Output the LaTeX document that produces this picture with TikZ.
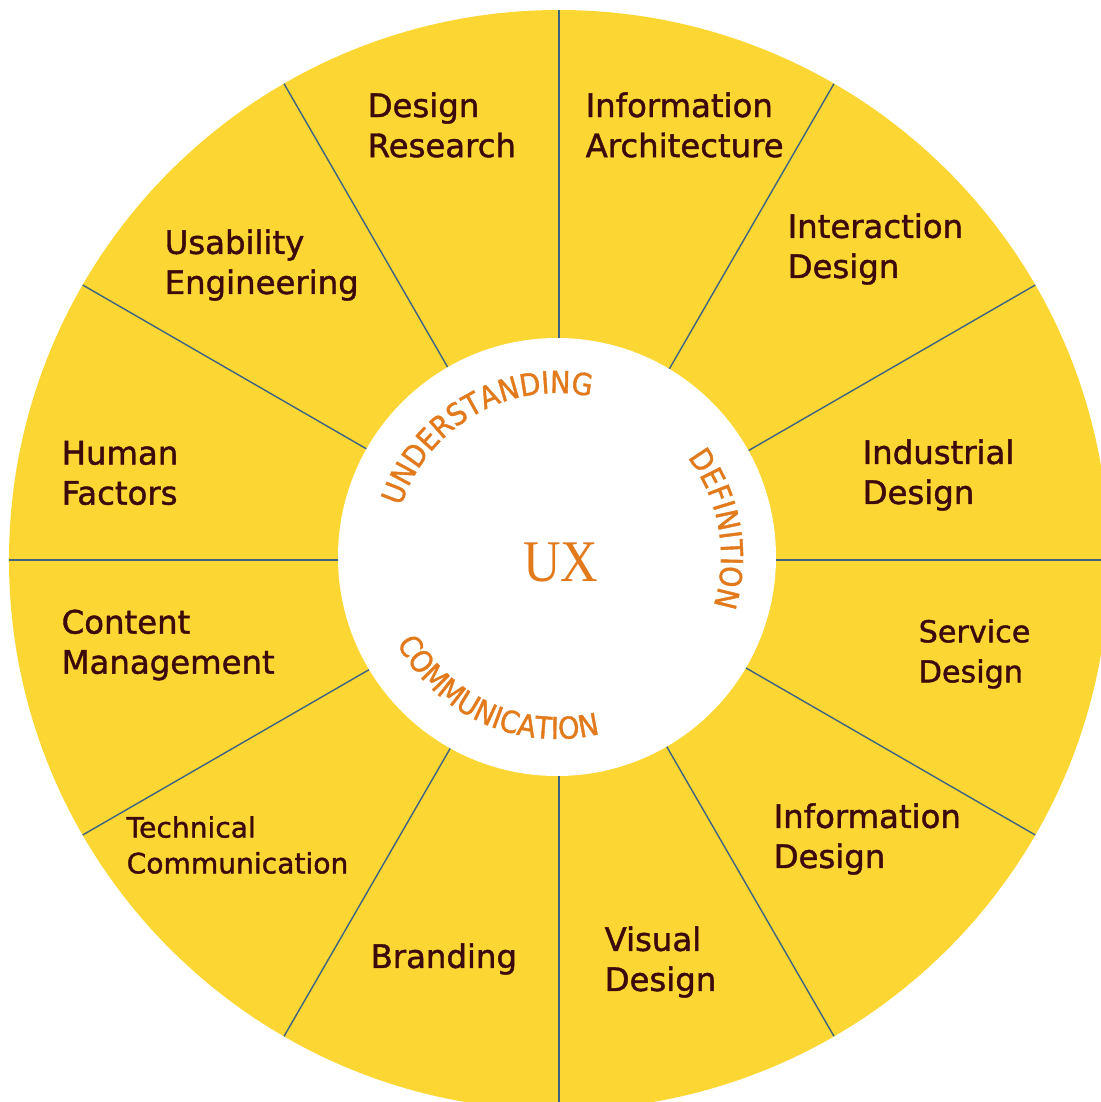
\documentclass[tikz,border=0pt]{standalone}
\usepackage{fontspec}
\setmainfont{DejaVu Sans}
\newfontfamily\labelfont{DejaVu Sans}[FakeBold=1.3]
\newfontfamily\arcfont{DejaVu Sans}[FakeBold=1.3, FakeStretch=0.9]
\newfontfamily\uxserif{Liberation Serif}[FakeStretch=0.88]
\usetikzlibrary{decorations.text}
\definecolor{wheelyellow}{RGB}{252,215,52}
\definecolor{labelbrown}{RGB}{60,10,10}
\definecolor{uxorange}{RGB}{226,122,28}
\definecolor{spokeblue}{RGB}{62,100,130}

\begin{document}
\begin{tikzpicture}[
  field/.style={anchor=west, inner sep=0pt, align=left, text=labelbrown, font=\labelfont\fontsize{9.2}{11.4}\selectfont},
  spoke/.style={spokeblue, line width=0.4pt},
  arclabel/.style={decorate, decoration={text along path, text align=center, text color=uxorange}}
]
\useasboundingbox (-5.59,-5.42) rectangle (5.42,5.60);

% Wheel and spokes
\fill[wheelyellow] (0,0) circle (5.5);
\foreach \a in {0,30,...,330}
  \draw[spoke] (\a:2.0) -- (\a:5.5);
\fill[white] (-0.02,0.03) circle (2.19);

% Centre
\node[text=uxorange, font=\uxserif\fontsize{16.8}{20}\selectfont] (ux) at (0.02,-0.02) {UX};

% Words round the centre
\begin{scope}[shift={(-0.02,0.03)}]
  \path[arclabel, decoration={text={|\arcfont\fontsize{8.6}{9}\selectfont|UNDERSTANDING}}]
    (170:1.64) arc[start angle=170, end angle=70, radius=1.64];
  \path[arclabel, decoration={text={|\arcfont\fontsize{8.6}{9}\selectfont|DEFINITION}}]
    (60:1.64) arc[start angle=60, end angle=-40, radius=1.64];
  \path[arclabel, decoration={text={|\arcfont\fontsize{8.6}{9}\selectfont|COMMUNICATION}}]
    (196:1.82) arc[start angle=196, end angle=296, radius=1.82];
\end{scope}

% Fields
\node[field] (research) at (-1.92,4.35) {Design\\Research};
\node[field] (infoarch) at (0.26,4.35) {Information\\Architecture};
\node[field] (usability) at (-3.95,2.95) {Usability\\Engineering};
\node[field] (interaction) at (2.28,3.11) {Interaction\\Design};
\node[field] (human) at (-4.98,0.87) {Human\\Factors};
\node[field] (industrial) at (3.03,0.85) {Industrial\\Design};
\node[field] (content) at (-4.98,-0.85) {Content\\Management};
\node[field, font=\labelfont\fontsize{8.6}{11.4}\selectfont] (service) at (3.59,-0.94) {Service\\Design};
\node[field, font=\labelfont\fontsize{8}{10.2}\selectfont] (technical) at (-4.33,-2.85) {Technical\\Communication};
\node[field] (infodesign) at (2.14,-2.79) {Information\\Design};
\node[field] (branding) at (-1.89,-3.99) {Branding};
\node[field] (visual) at (0.45,-4.02) {Visual\\Design};

\end{tikzpicture}
\end{document}
